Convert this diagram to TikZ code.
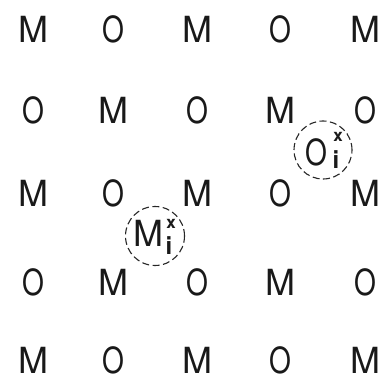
\documentclass[tikz,border=0pt]{standalone}
\usepackage{fontspec}
\setmainfont{TeX Gyre Heros}
\usetikzlibrary{positioning}
\tikzset{
  ltr/.style ={font=\fontsize{36}{36}\selectfont,inner sep=0pt,text=black!90},
  idx/.style ={font=\fontsize{17}{17}\selectfont\bfseries,inner sep=0pt,text=black!90},
  ring/.style={draw=black!85,circle,line width=1.1pt,dash pattern=on 7pt off 3.5pt,
               inner sep=0pt},
}
\newcommand{\glyph}[1]{\if O#1\scalebox{0.78}[1]{O}\else#1\fi}

\begin{document}
\begin{tikzpicture}[x=1pt,y=-1pt]
\useasboundingbox (0,0) rectangle (385,390);
% lattice of letters
\foreach \r/\y/\row in {1/29/{M,O,M,O,M},2/110/{O,M,O,M,O},3/193/{M,O,M,O,M},
                        4/282/{O,M,O,M,O},5/360/{M,O,M,O,M}}
  \foreach \l [count=\c] in \row {
    \pgfmathsetmacro{\xx}{{33,113,197,280,365}[\c-1]}
    \node[ltr] (l-\r-\c) at (\xx,\y) {\glyph{\l}};
  }
% marked sites
\node[ring,minimum size=59pt] (mring) at (155,236) {};
\node[ltr] (mi) at (148,233) {M};
\node[idx] (mi-x) at (171,224) {x};
\node[idx,font=\fontsize{24}{24}\selectfont\bfseries] (mi-i) at (169,246) {i};
\node[ring,minimum size=58pt] (oring) at (323,150) {};
\node[ltr] (oi) at (316,152) {\glyph{O}};
\node[idx] (oi-x) at (338,137) {x};
\node[idx,font=\fontsize{24}{24}\selectfont\bfseries] (oi-i) at (336,160) {i};
\end{tikzpicture}
\end{document}
